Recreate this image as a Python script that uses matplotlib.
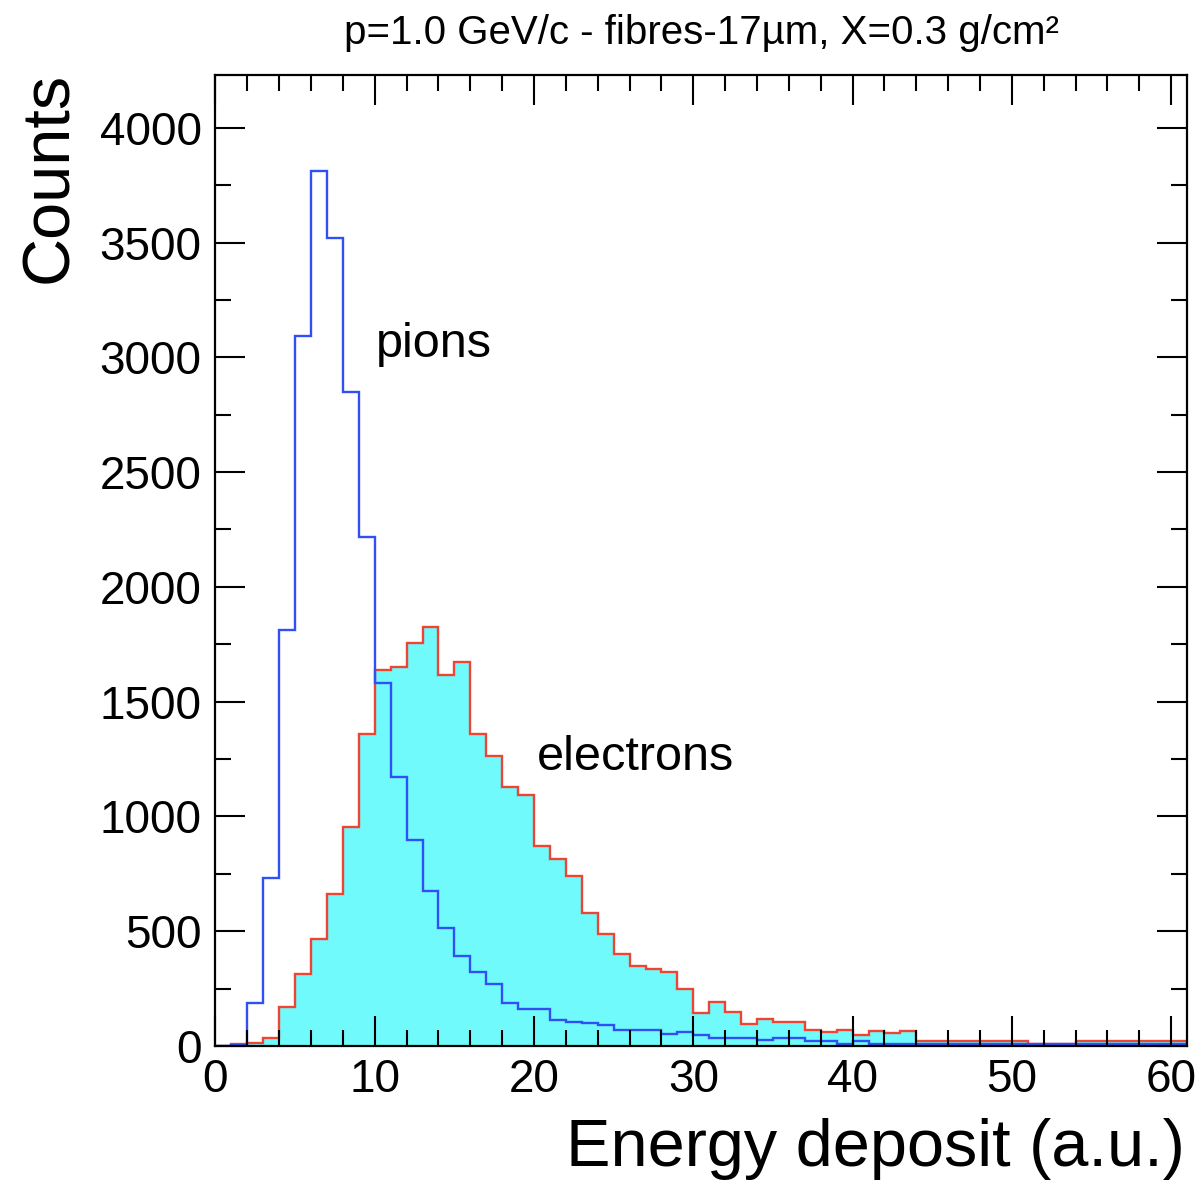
import numpy as np
import matplotlib
matplotlib.use("Agg")
import matplotlib.pyplot as plt
from matplotlib.ticker import MultipleLocator

plt.rcParams['font.family'] = ['Liberation Sans', 'DejaVu Sans']

# bin edges: 1 a.u. wide bins from 0 to 61
edges = np.arange(0, 62, 1)

# pions (blue outline)
pions = [0, 5, 186, 732, 1812, 3091, 3810, 3519, 2848, 2219,
         1580, 1173, 898, 677, 513, 394, 324, 269, 186, 160,
         160, 113, 106, 98, 91, 70, 70, 70, 52, 60,
         46, 33, 33, 33, 24, 35, 35, 22, 22, 10,
         22, 9, 9, 9, 10, 10, 10, 10, 10, 10,
         10, 10, 10, 10, 10, 10, 10, 10, 10, 10, 10]

# electrons (cyan filled, red outline)
electrons = [0, 8, 12, 36, 171, 312, 465, 662, 955, 1358,
             1638, 1649, 1754, 1824, 1616, 1671, 1358, 1265, 1130, 1094,
             871, 813, 742, 578, 488, 399, 348, 335, 324, 246,
             142, 193, 149, 96, 116, 106, 106, 70, 62, 70,
             48, 67, 55, 67, 20, 20, 20, 20, 20, 20,
             20, 8, 8, 8, 20, 20, 20, 20, 20, 20, 20]

fig = plt.figure(figsize=(12.01, 11.84), dpi=100)
ax = fig.add_axes([0.1794, 0.1166, 0.8090, 0.8201])

ax.stairs(electrons, edges, fill=True, color='#70fafb', lw=0)
ax.stairs(electrons, edges, color='#ee4433', lw=1.7)
ax.stairs(pions, edges, color='#3050f5', lw=1.7)

ax.text(10.1, 3000, 'pions', fontsize=35)
ax.text(20.2, 1200, 'electrons', fontsize=35)

ax.set_xlim(0, 61)
ax.set_ylim(0, 4230)
ax.xaxis.set_major_locator(MultipleLocator(10))
ax.xaxis.set_minor_locator(MultipleLocator(2))
ax.yaxis.set_major_locator(MultipleLocator(500))
ax.yaxis.set_minor_locator(MultipleLocator(250))

ax.tick_params(which='both', direction='in', top=True, right=True, width=1.5)
ax.tick_params(which='major', length=21.5, labelsize=33)
ax.tick_params(which='minor', length=11.5)
ax.tick_params(axis='y', pad=10)
ax.tick_params(axis='x', pad=9)
for s in ax.spines.values():
    s.set_linewidth(1.6)

ax.set_title('p=1.0 GeV/c - fibres-17µm, X=0.3 g/cm²', fontsize=29, pad=22)
ax.set_xlabel('Energy deposit (a.u.)', fontsize=48, loc='right')
ax.xaxis.set_label_coords(0.998, -0.074)
ax.set_ylabel('Counts', fontsize=48, loc='top')
ax.yaxis.set_label_coords(-0.138, 1.003)

fig.savefig('out.png', dpi=100)
